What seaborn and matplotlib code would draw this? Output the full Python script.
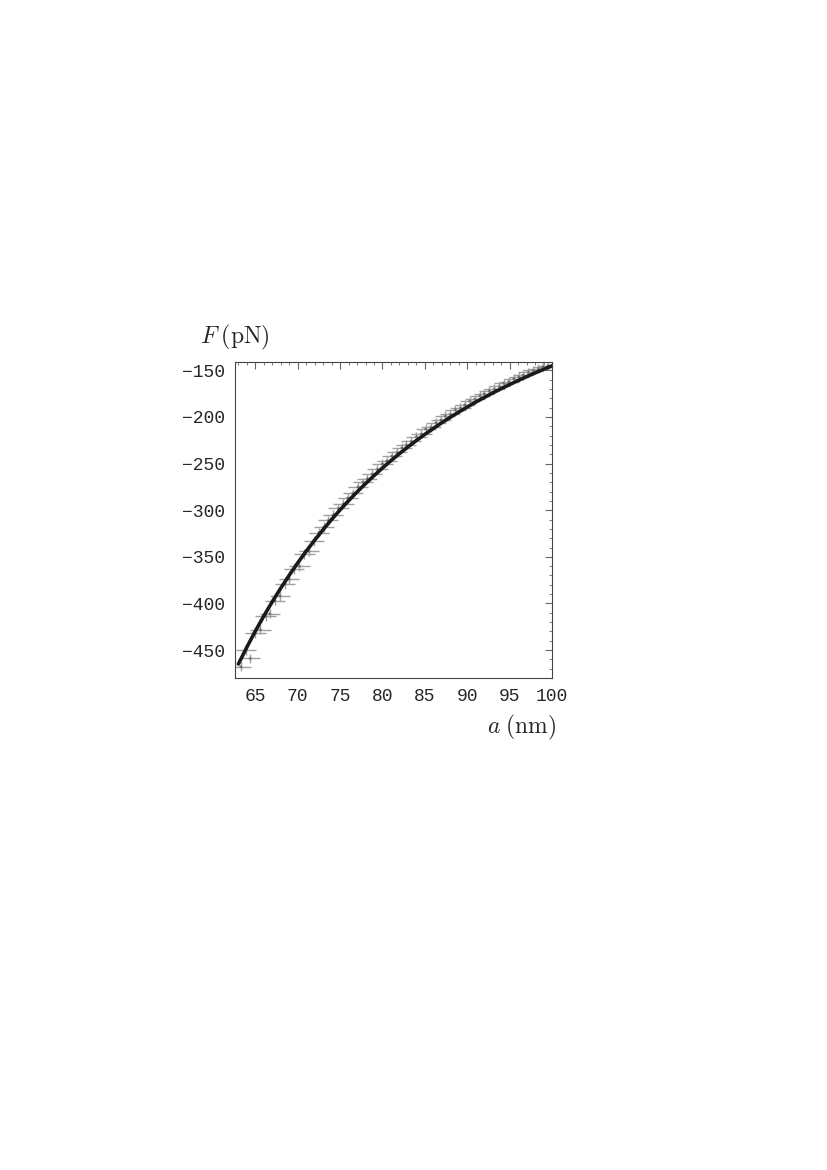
import numpy as np
import pandas as pd
import seaborn as sns
import matplotlib.pyplot as plt
from matplotlib.ticker import MultipleLocator

# theory curve
a_theory = [63, 64, 65, 66, 67, 68, 69, 70, 71, 72, 73, 74, 75, 76, 77, 78, 79, 80, 81,
            82, 83, 84, 85, 86, 87, 88, 89, 90, 91, 92, 93, 94, 95, 96, 97, 98, 99, 100]
F_theory = [-465.0, -446.9, -429.7, -413.5, -398.1, -383.6, -369.7, -356.5, -344.0, -332.1,
            -320.8, -309.9, -299.6, -289.8, -280.4, -271.5, -262.9, -254.7, -246.8, -239.3,
            -232.1, -225.2, -218.6, -212.3, -206.1, -200.3, -194.7, -189.3, -184.0, -179.1,
            -174.2, -169.6, -165.2, -160.9, -156.7, -152.7, -148.9, -145.1]

# measured points
a_data = [63.3, 63.9, 64.4, 65.0, 65.6, 66.2, 66.7, 67.3, 67.9, 68.5, 69.0, 69.6, 70.2, 70.8,
          71.3, 71.9, 72.5, 73.1, 73.6, 74.2, 74.8, 75.4, 75.9, 76.5, 77.1, 77.7, 78.2, 78.8,
          79.4, 80.0, 80.5, 81.1, 81.7, 82.3, 82.8, 83.4, 84.0, 84.6, 85.1, 85.7, 86.3, 86.9,
          87.4, 88.0, 88.6, 89.2, 89.7, 90.3, 90.9, 91.5, 92.0, 92.6, 93.2, 93.8, 94.3, 94.9,
          95.5, 96.1, 96.6, 97.2, 97.8, 98.4, 98.9, 99.5]
F_data = [-468, -450, -459, -432, -428, -414, -411, -397, -392, -379, -374, -363, -360, -347,
          -344, -333, -324, -318, -311, -305, -298, -293, -287, -282, -275, -270, -266, -261,
          -256, -250, -247, -242, -238, -233, -230, -226, -221, -218, -213, -211, -206, -203,
          -199, -197, -192, -190, -187, -183, -181, -177, -175, -172, -170, -167, -164, -162,
          -159, -157, -155, -152, -150, -148, -146, -145]
a_err = 1.2
F_err = 5.0

sns.set_style('white')
plt.rcParams['mathtext.fontset'] = 'cm'

fig = plt.figure(figsize=(8.28, 11.7), dpi=100)
ax = fig.add_axes([0.2838, 0.4205, 0.3829, 0.2701])

data = pd.DataFrame({'a': a_data, 'F': F_data})
theory = pd.DataFrame({'a': a_theory, 'F': F_theory})

ax.errorbar(data['a'], data['F'], xerr=a_err, yerr=F_err, fmt='none',
            ecolor='#a0a0a0', elinewidth=1.0, capsize=0, zorder=2)
sns.scatterplot(x='a', y='F', data=data, ax=ax, color='#666666', s=10, marker='*',
                edgecolor='none', zorder=3)
sns.lineplot(x='a', y='F', data=theory, ax=ax, color='#1a1a1a', linewidth=2.6, zorder=4)

ax.set_xlim(62.6, 100)
ax.set_ylim(-480, -141)
ax.set_xticks([65, 70, 75, 80, 85, 90, 95, 100])
ax.set_yticks([-450, -400, -350, -300, -250, -200, -150])
ax.xaxis.set_minor_locator(MultipleLocator(1))
ax.yaxis.set_minor_locator(MultipleLocator(10))
ax.tick_params(which='both', direction='in', top=True, right=True, color='#666666')
ax.tick_params(which='major', length=5, width=0.8, pad=7)
ax.tick_params(which='minor', length=2.5, width=0.6)
for lab in ax.get_xticklabels() + ax.get_yticklabels():
    lab.set_family('Liberation Mono')
    lab.set_fontsize(13)
for s in ax.spines.values():
    s.set_color('#444444')
    s.set_linewidth(0.8)

ax.set_xlabel('')
ax.set_ylabel('')
fig.text(0.2415, 0.699, r'$F\;(\mathrm{pN})$', fontsize=17, ha='left', va='bottom')
fig.text(0.671, 0.391, r'$a\;(\mathrm{nm})$', fontsize=17, ha='right', va='top')

plt.savefig('out.png', dpi=100)
